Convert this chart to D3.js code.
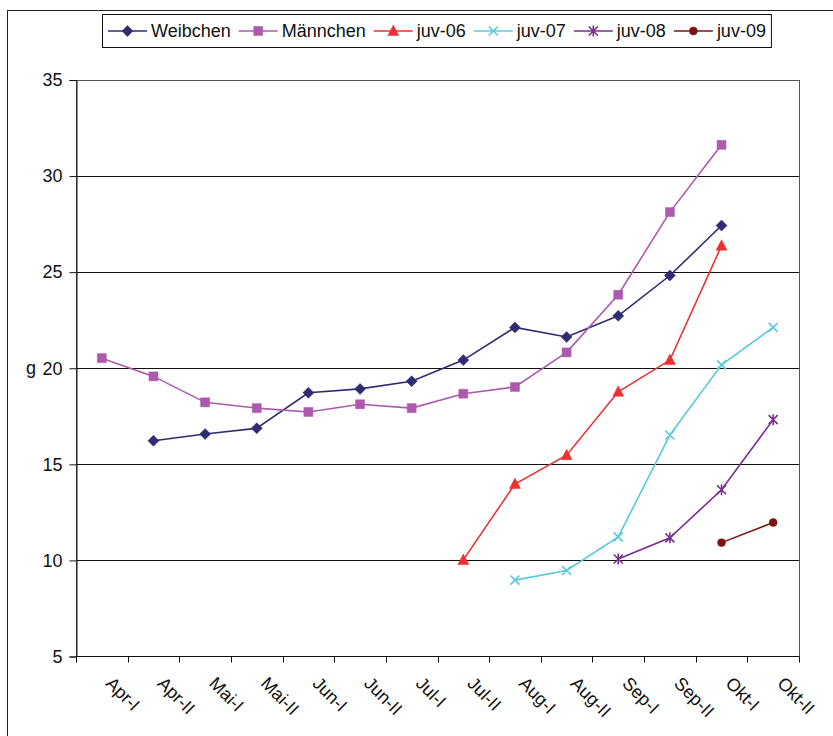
<!DOCTYPE html>
<html>
<head>
<meta charset="utf-8">
<script src="https://cdn.jsdelivr.net/npm/d3@7"></script>
<style>
  body { margin: 0; background: #fff; }
  svg { display: block; font-family: "Liberation Sans", Arial, sans-serif; }
</style>
</head>
<body>
<svg id="chart"></svg>
<script>
// categories (half-months)
const categories = ["Apr-I", "Apr-II", "Mai-I", "Mai-II", "Jun-I", "Jun-II", "Jul-I",
    "Jul-II", "Aug-I", "Aug-II", "Sep-I", "Sep-II", "Okt-I", "Okt-II"];

// weights in g, null = no value
const weibchen = [null, 16.2, 16.55, 16.85, 18.7, 18.9, 19.3, 20.4, 22.1, 21.6, 22.7, 24.8, 27.4, null];
const maennchen = [20.5, 19.55, 18.2, 17.9, 17.7, 18.1, 17.9, 18.65, 19.0, 20.8, 23.8, 28.1, 31.6, null];
const juv06 = [null, null, null, null, null, null, null, 10.0, 13.95, 15.45, 18.75, 20.4, 26.35, null];
const juv07 = [null, null, null, null, null, null, null, null, 8.95, 9.45, 11.2, 16.5, 20.15, 22.1];
const juv08 = [null, null, null, null, null, null, null, null, null, null, 10.05, 11.15, 13.65, 17.3];
const juv09 = [null, null, null, null, null, null, null, null, null, null, null, null, 10.9, 11.95];

const yTicks = [5, 10, 15, 20, 25, 30, 35];

const series = [
    {name: "Weibchen", values: weibchen, color: "#2f2c72", marker: "diamond"},
    {name: "Männchen", values: maennchen, color: "#ad5aad", marker: "square"},
    {name: "juv-06", values: juv06, color: "#ee3030", marker: "triangle"},
    {name: "juv-07", values: juv07, color: "#5bc8dc", marker: "x"},
    {name: "juv-08", values: juv08, color: "#7a2e8e", marker: "star"},
    {name: "juv-09", values: juv09, color: "#7a1414", marker: "circle"}
];

const width = 833, height = 736;
const plot = {left: 76, right: 799, top: 79.5, bottom: 656};

const svg = d3.select("#chart")
    .attr("width", width)
    .attr("height", height);

// chart frame
svg.append("rect")
    .attr("x", 7.5).attr("y", 10.5)
    .attr("width", 900).attr("height", 900)
    .attr("fill", "none")
    .attr("stroke", "#222");

const x = d3.scaleBand()
    .domain(categories)
    .range([plot.left, plot.right]);

const y = d3.scaleLinear()
    .domain([5, 35])
    .range([plot.bottom, plot.top]);

// gridlines
svg.append("g")
    .selectAll("line")
    .data(yTicks)
    .enter().append("line")
    .attr("x1", plot.left).attr("x2", plot.right)
    .attr("y1", d => Math.round(y(d)) + 0.5)
    .attr("y2", d => Math.round(y(d)) + 0.5)
    .attr("stroke", "#111");

// plot area border
svg.append("rect")
    .attr("x", plot.left + 0.5).attr("y", Math.round(plot.top) + 0.5)
    .attr("width", plot.right - plot.left)
    .attr("height", Math.round(plot.bottom) - Math.round(plot.top))
    .attr("fill", "none")
    .attr("stroke", "#555");

// y axis
const yAxis = d3.axisLeft(y)
    .tickValues(yTicks)
    .tickSize(7)
    .tickPadding(7);

const yAxisG = svg.append("g")
    .attr("transform", "translate(" + (plot.left + 0.5) + ",0.5)")
    .call(yAxis);
yAxisG.select(".domain").attr("stroke", "#111");
yAxisG.selectAll(".tick line").attr("stroke", "#111");
yAxisG.selectAll("text")
    .attr("font-size", 18)
    .attr("font-family", "Liberation Sans, Arial, sans-serif")
    .attr("fill", "#111");

// y axis title
svg.append("text")
    .attr("x", 26)
    .attr("y", y(20))
    .attr("dy", "0.32em")
    .attr("font-size", 18)
    .attr("fill", "#111")
    .text("g");

// x axis: ticks on category boundaries
const xAxisG = svg.append("g")
    .attr("transform", "translate(0," + (Math.round(plot.bottom) + 0.5) + ")");
xAxisG.append("line")
    .attr("x1", plot.left).attr("x2", plot.right)
    .attr("stroke", "#111");
const bounds = categories.map(c => x(c)).concat([x(categories[categories.length - 1]) + x.bandwidth()]);
xAxisG.selectAll("line.tick")
    .data(bounds)
    .enter().append("line")
    .attr("class", "tick")
    .attr("x1", d => Math.round(d) + 0.5).attr("x2", d => Math.round(d) + 0.5)
    .attr("y1", 0).attr("y2", 6)
    .attr("stroke", "#111");
xAxisG.selectAll("text")
    .data(categories)
    .enter().append("text")
    .attr("transform", d => "translate(" + (x(d) + x.bandwidth() / 2 + 3) + ",28) rotate(45)")
    .attr("font-size", 18)
    .attr("fill", "#111")
    .text(d => d);

// marker shapes
function markerPath(type) {
    switch (type) {
        case "diamond": return "M0,-5.5L5.5,0L0,5.5L-5.5,0Z";
        case "square": return "M-4.5,-4.5H4.5V4.5H-4.5Z";
        case "triangle": return "M0,-6L5.5,4.5H-5.5Z";
        case "x": return "M-4.5,-4.5L4.5,4.5M4.5,-4.5L-4.5,4.5";
        case "star": return "M-4.5,-4.5L4.5,4.5M4.5,-4.5L-4.5,4.5M0,-5.5V5.5";
        case "circle": return d3.symbol(d3.symbolCircle, 50)();
    }
}
const strokeMarkers = ["x", "star"];

function drawMarker(g, s) {
    const filled = strokeMarkers.indexOf(s.marker) < 0;
    g.append("path")
        .attr("d", markerPath(s.marker))
        .attr("fill", filled ? s.color : "none")
        .attr("stroke", s.color)
        .attr("stroke-width", filled ? 0.5 : 1.6);
}

const line = d3.line()
    .defined(d => d.v !== null)
    .x(d => x(d.c) + x.bandwidth() / 2)
    .y(d => y(d.v));

series.forEach(s => {
    const pts = categories.map((c, i) => ({c: c, v: s.values[i]}));
    const g = svg.append("g").attr("class", "series");
    g.append("path")
        .datum(pts)
        .attr("d", line)
        .attr("fill", "none")
        .attr("stroke", s.color)
        .attr("stroke-width", 1.6);
    g.selectAll("g.pt")
        .data(pts.filter(d => d.v !== null))
        .enter().append("g")
        .attr("class", "pt")
        .attr("transform", d => "translate(" + (x(d.c) + x.bandwidth() / 2) + "," + y(d.v) + ")")
        .each(function () { drawMarker(d3.select(this), s); });
});

// legend
const legend = svg.append("g");
const legendBox = legend.append("rect")
    .attr("fill", "#fff")
    .attr("stroke", "#111");
let lx = 108;
const ly = 31;
series.forEach(s => {
    legend.append("line")
        .attr("x1", lx).attr("x2", lx + 39)
        .attr("y1", ly).attr("y2", ly)
        .attr("stroke", s.color)
        .attr("stroke-width", 1.6);
    drawMarker(legend.append("g").attr("transform", "translate(" + (lx + 19.5) + "," + ly + ")"), s);
    const t = legend.append("text")
        .attr("x", lx + 43)
        .attr("y", ly)
        .attr("dy", "0.35em")
        .attr("font-size", 18)
        .attr("fill", "#111")
        .text(s.name);
    lx += 43 + t.node().getComputedTextLength() + 8;
});
legendBox
    .attr("x", 102.5).attr("y", 14.5)
    .attr("width", lx - 102 - 3).attr("height", 33);
</script>
</body>
</html>
